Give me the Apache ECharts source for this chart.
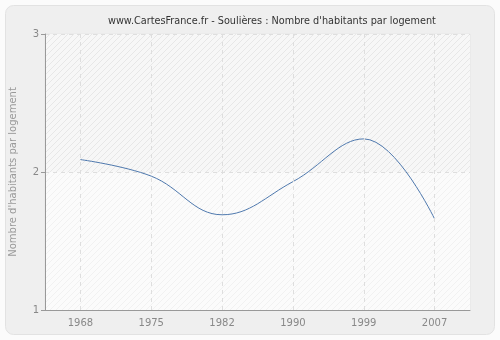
<!DOCTYPE html>
<html>
<head>
<meta charset="utf-8">
<script src="https://cdn.jsdelivr.net/npm/echarts@6/dist/echarts.min.js"></script>
<style>
  html, body { margin: 0; padding: 0; background: #fbfbfb; }
  #chart { width: 500px; height: 340px; }
</style>
</head>
<body>
<div id="chart"></div>
<script>
// Census years and average number of inhabitants per dwelling
const years = ['1968', '1975', '1982', '1990', '1999', '2007'];
const habitantsParLogement = [2.09, 1.97, 1.69, 1.93, 2.24, 1.66];
const yTicks = [1, 2, 3];

// Diagonal hatch used as the plot background
function hatch(bg, line) {
  const c = document.createElement('canvas');
  c.width = 6; c.height = 6;
  const g = c.getContext('2d');
  g.fillStyle = bg;
  g.fillRect(0, 0, 6, 6);
  g.strokeStyle = line;
  g.lineWidth = 1;
  g.beginPath();
  g.moveTo(0, 6); g.lineTo(6, 0);
  g.moveTo(-3, 3); g.lineTo(3, -3);
  g.moveTo(3, 9); g.lineTo(9, 3);
  g.stroke();
  return { image: c, repeat: 'repeat' };
}

const chart = echarts.init(document.getElementById('chart'), null, { renderer: 'canvas' });
const font = 'DejaVu Sans, Verdana, sans-serif';
const gridLine = { color: '#dedede', type: [4, 4], width: 1 };

chart.setOption({
  backgroundColor: 'transparent',
  animation: false,
  graphic: [{
    type: 'rect',
    shape: { x: 5.5, y: 5.5, width: 489, height: 329, r: 8 },
    style: { fill: '#efefef', stroke: '#e2e2e2', lineWidth: 1 },
    z: -10,
    silent: true
  }],
  title: {
    text: "www.CartesFrance.fr - Soulières : Nombre d'habitants par logement",
    left: 103,
    top: 11,
    textStyle: { fontFamily: font, fontSize: 9.7, fontWeight: 'normal', color: '#333' }
  },
  grid: { left: 40, right: 30, top: 34, bottom: 30, show: true, borderColor: '#e6e6e6', borderWidth: 1, backgroundColor: 'transparent' },
  xAxis: {
    type: 'category',
    data: years,
    boundaryGap: true,
    axisLine: { lineStyle: { color: '#999' } },
    axisTick: { alignWithLabel: true, lineStyle: { color: '#999' }, length: 4 },
    axisLabel: { color: '#888', fontFamily: font, fontSize: 10, margin: 8, interval: 0 },
    splitLine: { show: false }
  },
  yAxis: {
    type: 'value',
    min: yTicks[0],
    max: yTicks[yTicks.length - 1],
    interval: 1,
    name: "Nombre d'habitants par logement",
    nameLocation: 'middle',
    nameGap: 27,
    nameTextStyle: { color: '#999', fontFamily: font, fontSize: 10 },
    axisLine: { show: true, lineStyle: { color: '#999' } },
    axisTick: { show: true, length: 4, lineStyle: { color: '#999' } },
    axisLabel: { color: '#888', fontFamily: font, fontSize: 10, margin: 6 },
    splitLine: { show: true, lineStyle: gridLine },
    splitArea: { show: true, areaStyle: { color: [hatch('#fbfbfb', '#f1f1f1'), hatch('#f7f7f7', '#e7e7e7')] } }
  },
  series: [{
    type: 'line',
    data: habitantsParLogement,
    smooth: 0.4,
    symbol: 'none',
    lineStyle: { color: '#4f79ae', width: 1 },
    z: 3,
    // vertical dashed guides through each census year
    markLine: {
      silent: true,
      symbol: ['none', 'none'],
      label: { show: false },
      lineStyle: gridLine,
      emphasis: { disabled: true },
      data: years.map(y => ({ xAxis: y }))
    }
  }]
});
</script>
</body>
</html>
